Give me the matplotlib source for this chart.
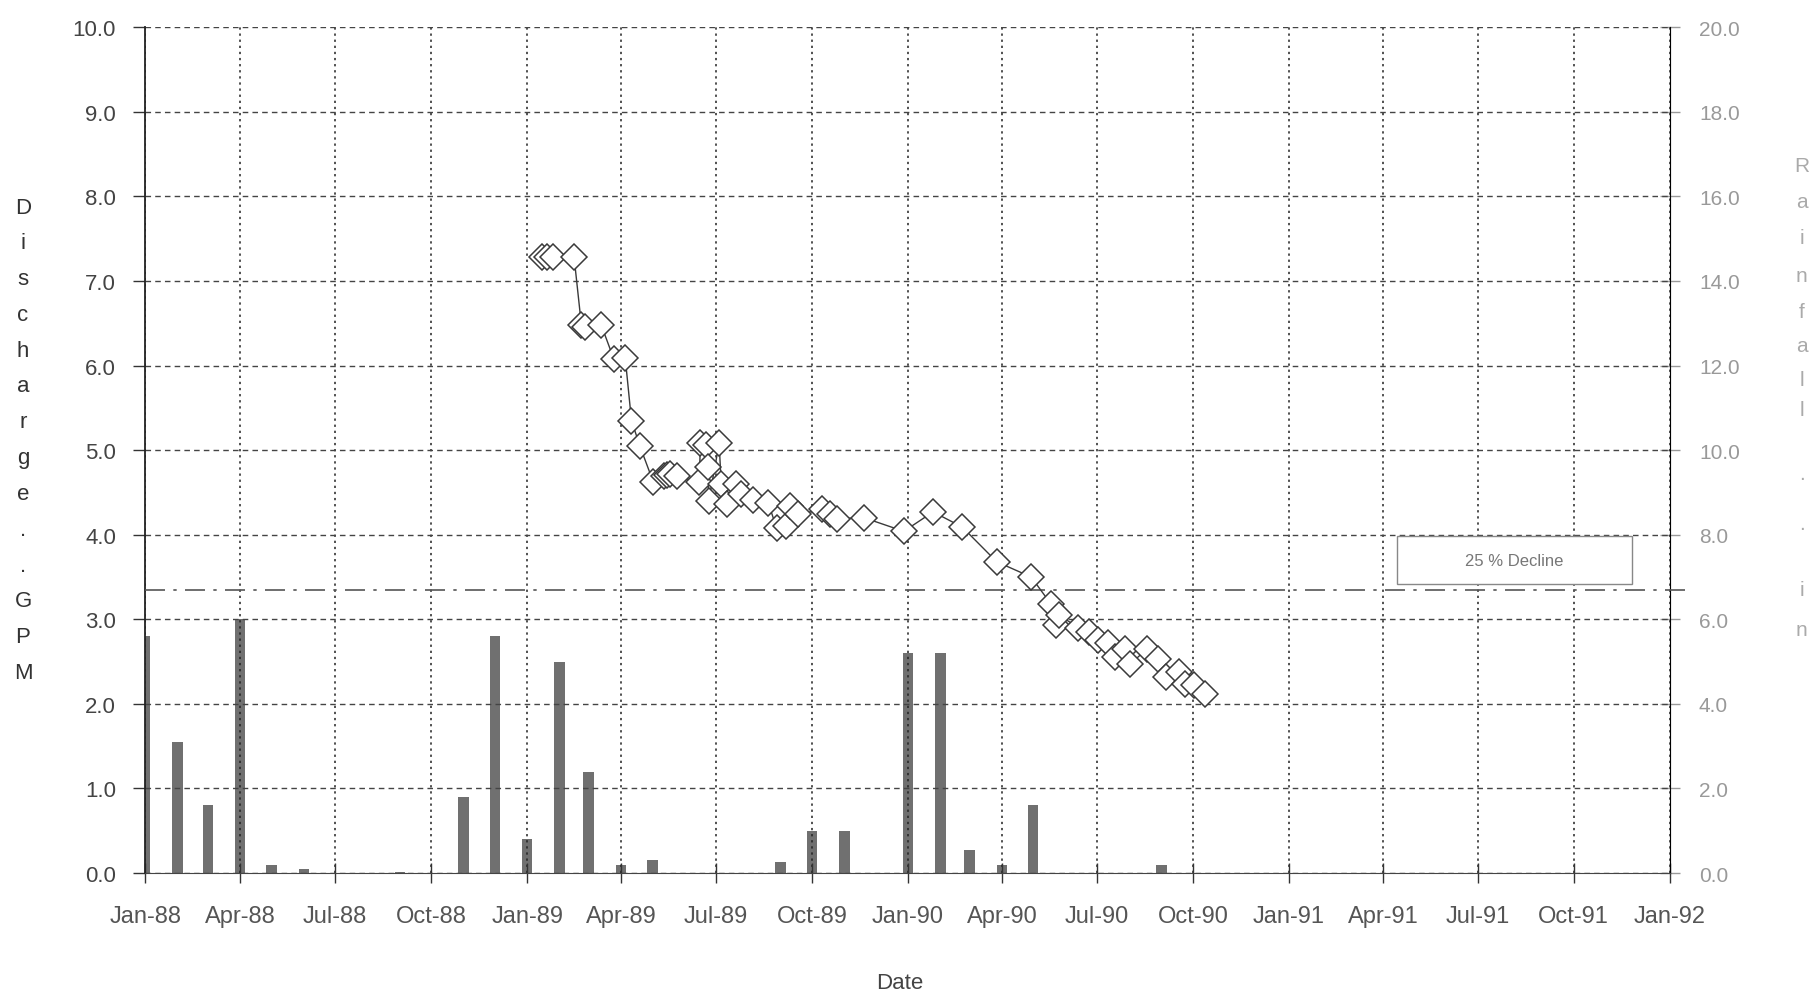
import pandas as pd
import matplotlib.pyplot as plt
import matplotlib.dates as mdates
from matplotlib.patches import Rectangle

plt.rcParams['font.family'] = ['Liberation Sans', 'DejaVu Sans']

# discharge readings (GPM)
discharge_dates = [
    '1989-01-15', '1989-01-20', '1989-01-26', '1989-02-15', '1989-02-22', '1989-02-25',
    '1989-03-13', '1989-03-25', '1989-04-05', '1989-04-11', '1989-04-19', '1989-05-02',
    '1989-05-12', '1989-05-15', '1989-05-18', '1989-05-25', '1989-06-15', '1989-06-16',
    '1989-06-21', '1989-06-23', '1989-06-24', '1989-07-04', '1989-07-06', '1989-07-12',
    '1989-07-20', '1989-07-25', '1989-08-05', '1989-08-20', '1989-08-28', '1989-09-06',
    '1989-09-10', '1989-09-18', '1989-10-11', '1989-10-18', '1989-10-25', '1989-11-20',
    '1989-12-28', '1990-01-25', '1990-02-22', '1990-03-27', '1990-04-29', '1990-05-18',
    '1990-05-23', '1990-05-26', '1990-06-13', '1990-06-23', '1990-07-02', '1990-07-12',
    '1990-07-18', '1990-07-28', '1990-08-02', '1990-08-18', '1990-08-29', '1990-09-05',
    '1990-09-18', '1990-09-23', '1990-10-02', '1990-10-13']
discharge_gpm = [
    7.28, 7.28, 7.28, 7.28, 6.48, 6.46,
    6.48, 6.08, 6.09, 5.35, 5.05, 4.62,
    4.69, 4.71, 4.72, 4.69, 4.62, 5.08,
    5.06, 4.80, 4.40, 5.08, 4.60, 4.36,
    4.60, 4.48, 4.41, 4.38, 4.08, 4.10,
    4.34, 4.24, 4.30, 4.25, 4.19, 4.20,
    4.04, 4.27, 4.09, 3.68, 3.50, 3.18,
    2.93, 3.05, 2.90, 2.85, 2.76, 2.72,
    2.55, 2.65, 2.47, 2.65, 2.53, 2.32,
    2.38, 2.24, 2.22, 2.12]

# monthly rainfall (in)
rain_months = pd.date_range('1988-01-01', '1990-09-01', freq='MS')
rain_in = [5.6, 3.1, 1.6, 6.0, 0.2, 0.1, 0.0, 0.0, 0.02, 0.0, 1.8, 5.6,
           0.8, 5.0, 2.4, 0.2, 0.3, 0.0, 0.0, 0.0, 0.25, 1.0, 1.0, 0.0,
           5.2, 5.2, 0.55, 0.2, 1.6, 0.0, 0.0, 0.0, 0.2]

decline_level = 3.35
decline_label = '25 % Decline'

fig = plt.figure(figsize=(18.15, 9.95), dpi=100)
ax = fig.add_axes([0.0800, 0.1216, 0.8400, 0.8500])
ax2 = ax.twinx()

# rainfall bars on the right axis
ax2.bar(rain_months, rain_in, width=10, color='#707070', zorder=2)
ax2.set_ylim(0, 20)
ax2.set_yticks(range(0, 21, 2))
ax2.set_yticklabels([f'{v:.1f}' for v in range(0, 21, 2)])

# discharge line with open diamonds
ax.set_zorder(ax2.get_zorder() + 1)
ax.patch.set_visible(False)
dates = pd.to_datetime(discharge_dates)
ax.plot(dates, discharge_gpm, color='#3a3a3a', lw=1, marker='D', ms=13.5,
        mfc='white', mec='#3a3a3a', mew=1.1, zorder=4)

# 25 % decline reference line
ax.axhline(decline_level, xmin=0, xmax=1.015, color='#555555', lw=1.2,
           ls=(0, (12, 5, 2, 5)), clip_on=False, zorder=3)
ax.add_patch(Rectangle((0.821, 0.342), 0.154, 0.056, transform=ax.transAxes,
                       fill=True, fc='white', ec='#888888', lw=1, zorder=5))
ax.text(0.898, 0.370, decline_label, transform=ax.transAxes, ha='center', va='center',
        fontsize=12, color='#777777', zorder=6)

ax.set_xlim(pd.Timestamp('1988-01-01'), pd.Timestamp('1992-01-01'))
ax.set_ylim(0, 10)
ax.set_yticks(range(0, 11))
ax.set_yticklabels([f'{v:.1f}' for v in range(0, 11)])
ax.xaxis.set_major_locator(mdates.MonthLocator(bymonth=[1, 4, 7, 10]))
ax.xaxis.set_major_formatter(mdates.DateFormatter('%b-%y'))

ax.grid(axis='x', color='#222222', lw=1.1, ls=(0, (1.5, 2.5)))
ax.grid(axis='y', color='#444444', lw=1, ls=(0, (4, 3)))

for a in (ax, ax2):
    a.spines['top'].set_visible(False)
ax.spines['left'].set_color('#222222')
ax.spines['left'].set_linewidth(1.3)
ax.spines['bottom'].set_color('#444444')
ax2.spines['right'].set_color('#888888')
ax2.spines['left'].set_visible(False)
ax2.spines['bottom'].set_visible(False)

ax.tick_params(axis='x', direction='inout', length=14, width=1, color='#333333',
               labelsize=17, labelcolor='#555555', pad=16)
ax.tick_params(axis='y', direction='out', length=9, width=1, color='#333333',
               labelsize=16, labelcolor='#444444', pad=12)
ax2.tick_params(axis='y', direction='inout', length=14, width=1, color='#999999',
                labelsize=15, labelcolor='#999999', pad=14)

# stacked axis titles
left_title = list('Discharge..GPM')
for i, ch in enumerate(left_title):
    fig.text(0.0127, 1 - (208 + i * 35.8) / 995, ch, ha='center', va='center',
             fontsize=16, color='#333333')

right_title = list('Rainfall..in')
right_pos = [166, 203, 238, 276, 312, 347, 380, 411, 475, 525, 590, 631]
for ch, yp in zip(right_title, right_pos):
    fig.text(0.9928, 1 - yp / 995, ch, ha='center', va='center',
             fontsize=15, color='#aaaaaa')

fig.text(0.496, 1 - 984 / 995, 'Date', ha='center', va='center', fontsize=16,
         color='#444444')

plt.savefig('out.png')
